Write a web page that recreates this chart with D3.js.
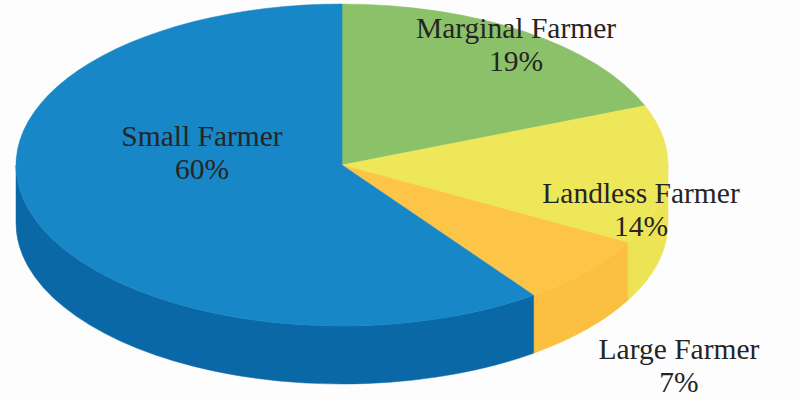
<!DOCTYPE html>
<html>
<head>
<meta charset="utf-8">
<script src="https://cdn.jsdelivr.net/npm/d3@7"></script>
<style>
  html, body { margin: 0; padding: 0; background: #fdfdfd; }
  .label { font-family: "Liberation Serif", "Times New Roman", serif; font-size: 29.5px; fill: #252525; }
</style>
</head>
<body>
<div id="chart"></div>
<script>
// data
const categories = ["Small Farmer", "Marginal Farmer", "Landless Farmer", "Large Farmer"];
const shares = [60, 19, 14, 7];

// drawing order around the pie (clockwise from 12 o'clock)
const order = [1, 2, 3, 0];

// colours: top face / side face
const topColors = { "Small Farmer": "#1787c7", "Marginal Farmer": "#8bc169", "Landless Farmer": "#efe75a", "Large Farmer": "#fcc548" };
const sideColors = { "Small Farmer": "#0a68a6", "Marginal Farmer": "#7aae5a", "Landless Farmer": "#ece455", "Large Farmer": "#fbc03f" };

// where each label block is centred (first line baseline)
const labelAt = {
  "Small Farmer": [202, 146],
  "Marginal Farmer": [516, 38],
  "Landless Farmer": [641, 203],
  "Large Farmer": [679, 359]
};

const dimensions = {
  width: 800,
  height: 400,
  cx: 342,
  cy: 165,
  rx: 326,
  ry: 161,
  depth: 58,
  lineGap: 34
};

const slicesData = order.map(i => ({ name: categories[i], value: shares[i] }));

const pie = d3.pie()
  .sort(null)
  .value(d => d.value)
  .startAngle(0)
  .endAngle(2 * Math.PI);

const arcs = pie(slicesData);

// angle (d3 convention, clockwise from top) -> point on the ellipse
const pt = (a, dy = 0) => [
  dimensions.cx + dimensions.rx * Math.sin(a),
  dimensions.cy - dimensions.ry * Math.cos(a) + dy
];

const topPath = d => {
  const p0 = pt(d.startAngle), p1 = pt(d.endAngle);
  const large = (d.endAngle - d.startAngle) > Math.PI ? 1 : 0;
  return `M${dimensions.cx},${dimensions.cy} L${p0} A${dimensions.rx},${dimensions.ry} 0 ${large} 1 ${p1} Z`;
};

// only the front half (90deg..270deg) of the rim is visible
const sidePath = d => {
  const s = Math.max(d.startAngle, Math.PI / 2);
  const e = Math.min(d.endAngle, 3 * Math.PI / 2);
  if (e <= s) return null;
  const a = pt(s), b = pt(e), b2 = pt(e, dimensions.depth), a2 = pt(s, dimensions.depth);
  return `M${a} A${dimensions.rx},${dimensions.ry} 0 0 1 ${b} L${b2} A${dimensions.rx},${dimensions.ry} 0 0 0 ${a2} Z`;
};

const svg = d3.select("#chart")
  .append("svg")
    .attr("width", dimensions.width)
    .attr("height", dimensions.height);

// side walls first
svg.append("g")
  .selectAll("path")
  .data(arcs.filter(d => sidePath(d) !== null))
  .enter()
  .append("path")
    .attr("d", sidePath)
    .attr("fill", d => sideColors[d.data.name])
    .attr("stroke", d => sideColors[d.data.name])
    .attr("stroke-width", 0.5);

// top faces
svg.append("g")
  .selectAll("path")
  .data(arcs)
  .enter()
  .append("path")
    .attr("d", topPath)
    .attr("fill", d => topColors[d.data.name])
    .attr("stroke", d => topColors[d.data.name])
    .attr("stroke-width", 0.5);

// labels
const labels = svg.append("g")
  .selectAll("text")
  .data(arcs)
  .enter()
  .append("text")
    .attr("class", "label")
    .attr("text-anchor", "middle")
    .attr("x", d => labelAt[d.data.name][0])
    .attr("y", d => labelAt[d.data.name][1]);

labels.append("tspan")
  .text(d => d.data.name);

labels.append("tspan")
  .attr("x", d => labelAt[d.data.name][0])
  .attr("dy", dimensions.lineGap - 1)
  .text(d => d.data.value + "%");
</script>
</body>
</html>
